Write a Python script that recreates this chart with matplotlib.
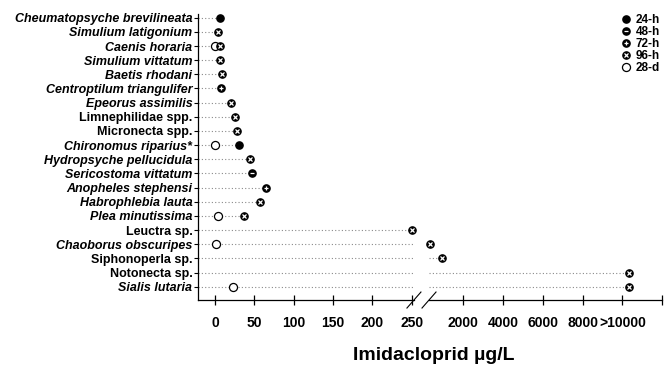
import numpy as np
import matplotlib
matplotlib.use("Agg")
import matplotlib.pyplot as plt
from matplotlib.lines import Line2D
from matplotlib.legend_handler import HandlerTuple

plt.rcParams['font.family'] = ['Liberation Sans', 'DejaVu Sans']
plt.rcParams['font.weight'] = 'bold'

# 物种（自上而下）及是否斜体
species = ["Cheumatopsyche brevilineata", "Simulium latigonium", "Caenis horaria",
           "Simulium vittatum", "Baetis rhodani", "Centroptilum triangulifer",
           "Epeorus assimilis", "Limnephilidae spp.", "Micronecta spp.",
           "Chironomus riparius*", "Hydropsyche pellucidula", "Sericostoma vittatum",
           "Anopheles stephensi", "Habrophlebia lauta", "Plea minutissima",
           "Leuctra sp.", "Chaoborus obscuripes", "Siphonoperla sp.",
           "Notonecta sp.", "Sialis lutaria"]
italic = [True, True, True, True, True, True, True, False, False, True,
          True, True, True, True, True, False, True, False, False, True]

nan = np.nan
# 各暴露时间的毒性值 (µg/L)
v24h = [6.4, nan, nan, nan, nan, nan, nan, nan, nan, 31, nan, nan, nan, nan, nan, nan, nan, nan, nan, nan]
v48h = [nan, nan, nan, nan, nan, nan, nan, nan, nan, nan, nan, 47.5, nan, nan, nan, nan, nan, nan, nan, nan]
v72h = [nan, nan, nan, nan, nan, 7.6, nan, nan, nan, nan, nan, nan, 65, nan, nan, nan, nan, nan, nan, nan]
v96h = [nan, 4.2, 6.4, 6.4, 8.5, nan, 20.4, 25.4, 28.4, nan, 44.5, nan, nan, 57, 37,
        250, 350, 935, 10330, 10330]
v28d = [nan, nan, 0, nan, nan, nan, nan, nan, nan, 0, nan, nan, nan, nan, 3.4, nan, 1.3, nan, nan, 23.3]

left_ticks = [0, 50, 100, 150, 200, 250]
right_ticks = [2000, 4000, 6000, 8000, 10000, 12000]
right_labels = ["2000", "4000", "6000", "8000", ">10000", ""]

n = len(species)
ypos = np.arange(n)[::-1]
allv = np.array([v24h, v48h, v72h, v96h, v28d], dtype=float)
vmax = np.nanmax(allv, axis=0)

fig = plt.figure(figsize=(6.72, 3.65), dpi=100)
axL = fig.add_axes([0.2946, 0.178, 0.3214, 0.7836])
axR = fig.add_axes([0.6384, 0.178, 0.3472, 0.7836])
xlimL = (-21.6, 253)
xlimR = (300, 12000)

dot_style = dict(color='#8a8a8a', lw=0.8, linestyle=(0, (1, 2)), zorder=1)
for y, m in zip(ypos, vmax):
    axL.plot([xlimL[0], min(m, xlimL[1])], [y, y], **dot_style)
    if m > xlimR[0]:
        axR.plot([xlimR[0], m], [y, y], **dot_style)

ms = 5.2
inner = {'48': '_', '72': '+', '96': 'x'}


def draw_series(vals, kind):
    vals = np.array(vals, dtype=float)
    for ax, lim in ((axL, xlimL), (axR, xlimR)):
        sel = (vals >= lim[0]) & (vals <= lim[1])
        if not sel.any():
            continue
        x, y = vals[sel], ypos[sel]
        if kind == '28':
            ax.plot(x, y, 'o', ms=ms + 0.6, mfc='white', mec='black', mew=0.9,
                    zorder=2, clip_on=False)
        else:
            ax.plot(x, y, 'o', ms=ms, mfc='black', mec='black', zorder=3, clip_on=False)
            if kind in inner:
                ax.plot(x, y, inner[kind], ms=2.6, mec='white', mew=0.9, zorder=4,
                        clip_on=False)


draw_series(v28d, '28')
draw_series(v24h, '24')
draw_series(v48h, '48')
draw_series(v72h, '72')
draw_series(v96h, '96')

for ax in (axL, axR):
    ax.set_ylim(-0.94, 19.26)
    ax.spines['top'].set_visible(False)
    ax.spines['right'].set_visible(False)
    ax.spines['bottom'].set_linewidth(0.9)
    ax.tick_params(axis='x', direction='inout', length=7, width=0.9, labelsize=10, pad=8)

axL.set_xlim(*xlimL)
axL.set_xticks(left_ticks)
axL.set_xticklabels([str(t) for t in left_ticks], fontweight='bold')
axL.set_yticks(ypos)
axL.set_yticklabels(species, fontsize=9, fontweight='bold')
for lab, it in zip(axL.get_yticklabels(), italic):
    if it:
        lab.set_style('italic')
axL.spines['left'].set_linewidth(0.9)
axL.tick_params(axis='y', direction='out', length=3, width=0.8, pad=1)

axR.set_xlim(*xlimR)
axR.set_xticks(right_ticks)
axR.set_xticklabels(right_labels, fontweight='bold')
axR.spines['left'].set_visible(False)
axR.set_yticks([])

# 断轴标记
for ax, xa in ((axL, 1.0), (axR, 0.0)):
    bb = ax.get_position()
    dx = 7 / (bb.width * 672)
    dy = 8 / (bb.height * 365)
    ax.plot([xa - dx, xa + dx], [-dy, dy], transform=ax.transAxes, color='black',
            lw=0.8, clip_on=False)

fig.text(0.645, 0.027, "Imidacloprid µg/L", ha='center', va='center',
         fontsize=14, fontweight='bold')

# 图例
def h_black():
    return Line2D([], [], ls='none', marker='o', ms=ms, mfc='black', mec='black')


def h_inner(m):
    return Line2D([], [], ls='none', marker=m, ms=2.6, mec='white', mew=0.9)


handles = [h_black(), (h_black(), h_inner('_')), (h_black(), h_inner('+')),
           (h_black(), h_inner('x')),
           Line2D([], [], ls='none', marker='o', ms=ms + 0.6, mfc='white', mec='black', mew=0.9)]
labels = ["24-h", "48-h", "72-h", "96-h", "28-d"]
axR.legend(handles, labels, loc='upper right', bbox_to_anchor=(1.025, 1.03),
           frameon=False, handler_map={tuple: HandlerTuple(ndivide=1, pad=0)},
           prop={'size': 8.5, 'weight': 'bold'}, labelspacing=0.0,
           handlelength=0.8, handletextpad=0.4, borderpad=0.2)

fig.savefig("out.png", dpi=100)
